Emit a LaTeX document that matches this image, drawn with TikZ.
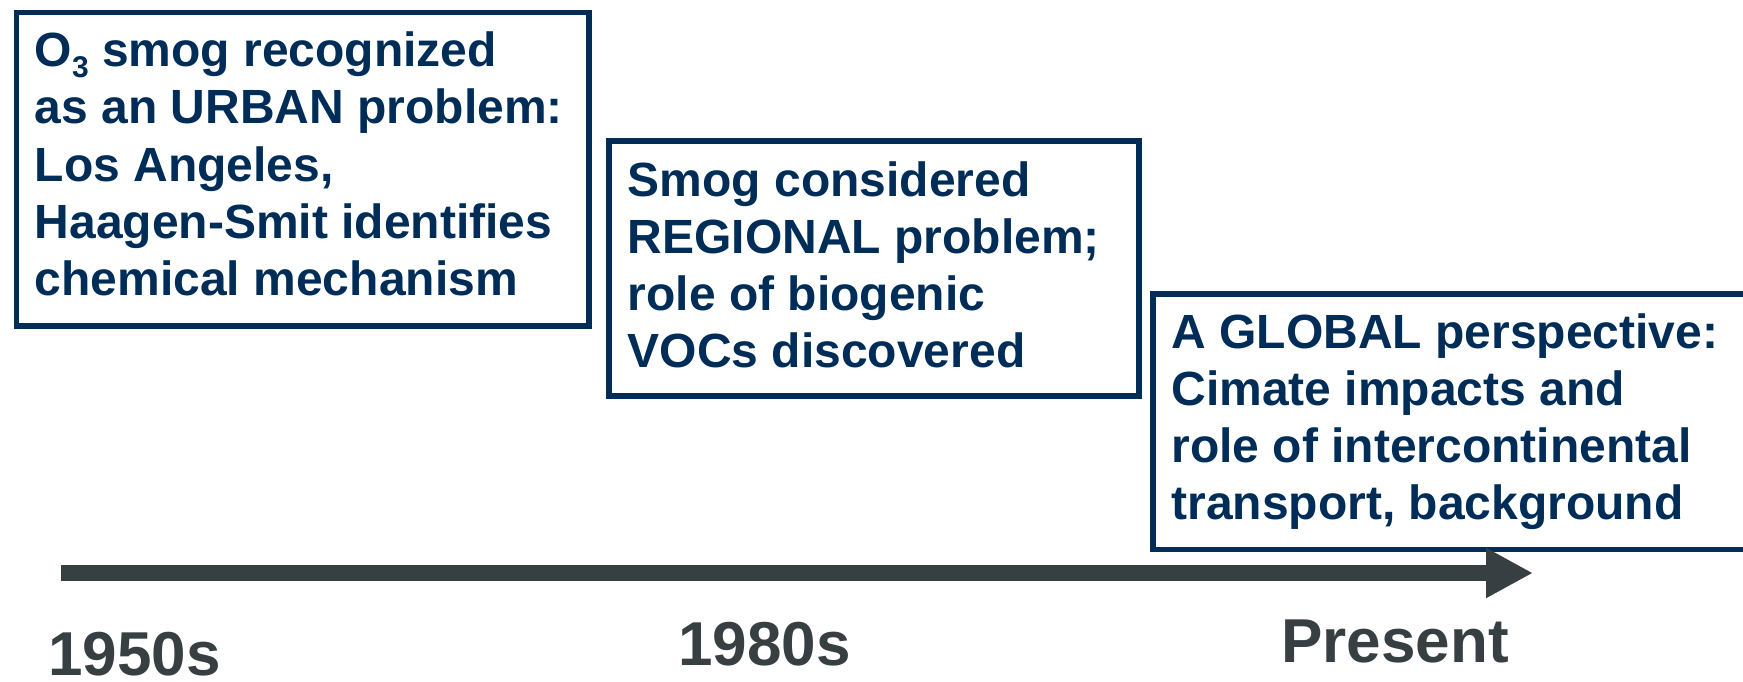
\documentclass[tikz,border=0pt]{standalone}
\usepackage{fontspec}
\setmainfont{Liberation Sans}
\usetikzlibrary{arrows.meta}
\definecolor{navy}{HTML}{002D57}
\definecolor{axisgray}{HTML}{373F43}
\newcommand{\subthree}{\raisebox{-5.6pt}{\fontsize{15}{15}\selectfont 3}}
\tikzset{
  boxframe/.style={draw=navy, line width=2.85pt, rectangle, inner sep=0pt, anchor=north west},
  boxtext/.style={text=navy, anchor=base west, inner sep=0pt, font=\bfseries\fontsize{24}{28.65}\selectfont},
  yearlabel/.style={text=axisgray, anchor=base west, inner sep=0pt, text depth=0pt, font=\bfseries\fontsize{31}{31}\selectfont},
}
\begin{document}
\begin{tikzpicture}[x=0.5pt, y=-0.5pt]
\useasboundingbox (0,0) rectangle (1743,681);
\clip (0,0) rectangle (1743,681);
% boxes
\node (b1) [boxframe, minimum width=286.25pt, minimum height=156.85pt] at (13.5,9.5) {};
\node (b2) [boxframe, minimum width=265.1pt, minimum height=127.75pt] at (606,137.8) {};
\node (b3) [boxframe, minimum width=310pt, minimum height=127.8pt] at (1150.3,291.1) {};
% texts
\node (t1) [boxtext] at (34.5,66.5) {\parbox[t]{300pt}{\fontsize{24}{28.65}\selectfont\bfseries
O\subthree{} smog recognized\\
as an URBAN problem:\\
Los Angeles,\\
Haagen-Smit identifies\\
chemical mechanism}};
\node (t2) [boxtext] at (627.5,196) {\parbox[t]{300pt}{\fontsize{24}{28.65}\selectfont\bfseries
Smog considered\\
REGIONAL problem;\\
role of biogenic\\
VOCs discovered}};
\node (t3) [boxtext] at (1171,348) {\parbox[t]{300pt}{\fontsize{24}{28.65}\selectfont\bfseries
A GLOBAL perspective:\\
Cimate impacts and\\
role of intercontinental\\
transport, background}};
% time axis
\coordinate (a0) at (61,573);
\coordinate (a1) at (1533,573);
\draw[axisgray, line width=8pt, -{Triangle[length=23.5pt, width=23.5pt]}] (a0) -- (a1);
% labels
\node (y1) [yearlabel] at (48,675) {1950s};
\node (y2) [yearlabel] at (678,665) {1980s};
\node (y3) [yearlabel] at (1281,662) {Present};
\end{tikzpicture}
\end{document}
